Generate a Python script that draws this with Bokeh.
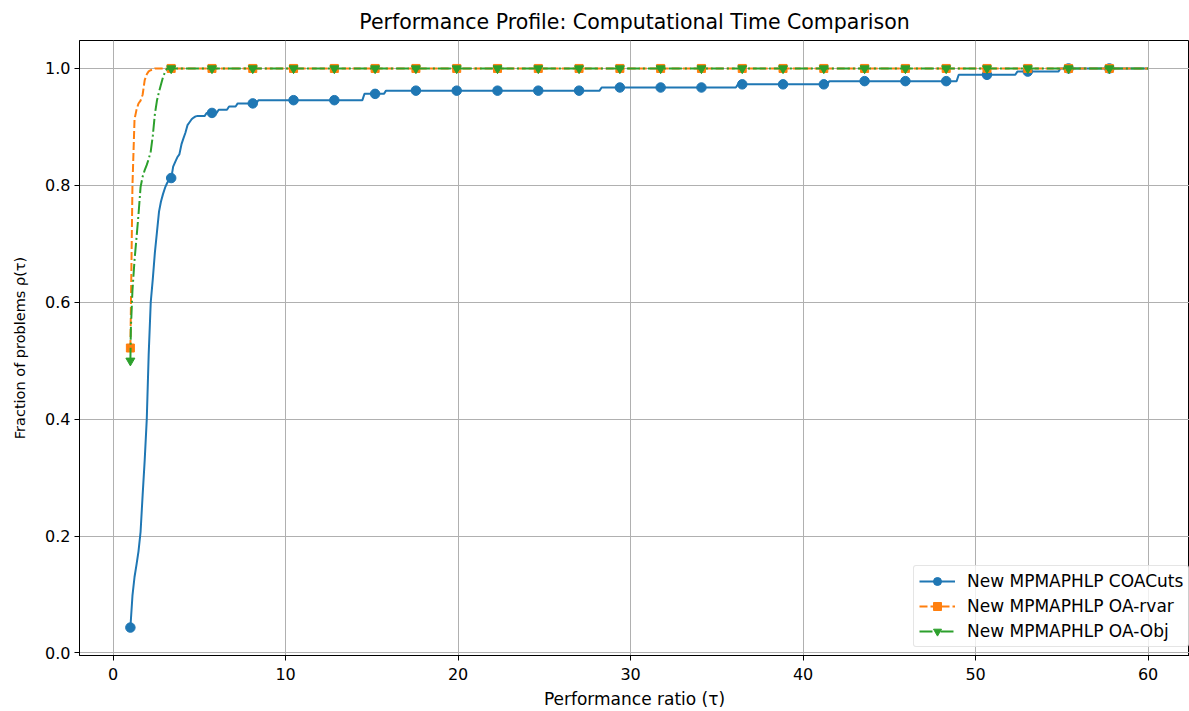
from bokeh.plotting import figure
from bokeh.models import FixedTicker, Legend, LegendItem, Range1d, CustomJSTickFormatter
from bokeh.embed import file_html
from bokeh.resources import INLINE

title = "Performance Profile: Computational Time Comparison"
x_label = "Performance ratio (τ)"
y_label = "Fraction of problems ρ(τ)"
x_ticks = [0, 10, 20, 30, 40, 50, 60]
y_ticks = [0.0, 0.2, 0.4, 0.6, 0.8, 1.0]
series_names = ["New MPMAPHLP COACuts", "New MPMAPHLP OA-rvar", "New MPMAPHLP OA-Obj"]

# New MPMAPHLP COACuts profile (tau, rho) vertices
coa_tau = [1.0, 1.12, 1.24, 1.36, 1.47, 1.59, 1.71, 1.83, 1.95, 2.06, 2.18, 2.30, 2.42,
           2.54, 2.66, 2.77, 2.89, 3.01, 3.13, 3.25, 3.37, 3.48, 3.60, 3.72, 3.84, 3.96,
           4.07, 4.19, 4.31, 4.43, 4.55, 4.67, 4.78, 4.90, 5.30, 5.42, 6.00, 6.12, 6.60,
           6.72, 7.10, 7.22, 8.30, 8.42, 14.45, 14.57, 15.70, 15.82, 28.20, 28.32, 36.10,
           36.22, 41.40, 41.52, 48.90, 49.02, 52.30, 52.42, 54.80, 54.92, 60.0]
coa_rho = [0.0435, 0.098, 0.130, 0.152, 0.174, 0.207, 0.270, 0.330, 0.400, 0.510, 0.600,
           0.640, 0.685, 0.720, 0.755, 0.772, 0.785, 0.796, 0.804, 0.810, 0.8125, 0.832,
           0.840, 0.848, 0.853, 0.870, 0.880, 0.890, 0.903, 0.908, 0.913, 0.916, 0.918,
           0.9185, 0.9185, 0.9239, 0.9239, 0.9293, 0.9293, 0.9348, 0.9348, 0.9402, 0.9402,
           0.9457, 0.9457, 0.9565, 0.9565, 0.9620, 0.9620, 0.9674, 0.9674, 0.9728, 0.9728,
           0.9783, 0.9783, 0.9891, 0.9891, 0.9946, 0.9946, 1.0, 1.0]

# New MPMAPHLP OA-rvar profile
rva_tau = [1.0, 1.12, 1.24, 1.36, 1.47, 1.59, 1.71, 1.83, 1.95, 2.06, 2.18, 2.30, 2.42, 60.0]
rva_rho = [0.5217, 0.800, 0.913, 0.930, 0.940, 0.945, 0.955, 0.980, 0.990, 0.995, 0.997,
           0.998, 1.0, 1.0]

# New MPMAPHLP OA-Obj profile
obj_tau = [1.0, 1.03, 1.12, 1.24, 1.36, 1.47, 1.59, 1.71, 1.83, 1.95, 2.06, 2.18, 2.30,
           2.42, 2.54, 2.66, 2.77, 2.89, 3.01, 3.13, 60.0]
obj_rho = [0.5, 0.557, 0.620, 0.672, 0.712, 0.750, 0.797, 0.815, 0.826, 0.835, 0.845,
           0.858, 0.885, 0.922, 0.945, 0.960, 0.972, 0.985, 0.994, 1.0, 1.0]

# marker positions (every 20th evaluation point)
marker_tau = [1.0, 3.365, 5.730, 8.094, 10.459, 12.824, 15.188, 17.553, 19.918, 22.283,
              24.647, 27.012, 29.377, 31.741, 34.106, 36.471, 38.836, 41.200, 43.565,
              45.930, 48.295, 50.659, 53.024, 55.389, 57.754]
coa_marker_rho = [0.0435, 0.8125, 0.9239, 0.9402, 0.9457, 0.9457, 0.9565, 0.962, 0.962,
                  0.962, 0.962, 0.962, 0.9674, 0.9674, 0.9674, 0.9728, 0.9728, 0.9728,
                  0.9783, 0.9783, 0.9783, 0.9891, 0.9946, 1.0, 1.0]
rva_marker_rho = [0.5217, 1.0, 1.0, 1.0, 1.0, 1.0, 1.0, 1.0, 1.0, 1.0, 1.0, 1.0, 1.0,
                  1.0, 1.0, 1.0, 1.0, 1.0, 1.0, 1.0, 1.0, 1.0, 1.0, 1.0, 1.0]
obj_marker_rho = [0.5, 1.0, 1.0, 1.0, 1.0, 1.0, 1.0, 1.0, 1.0, 1.0, 1.0, 1.0, 1.0,
                  1.0, 1.0, 1.0, 1.0, 1.0, 1.0, 1.0, 1.0, 1.0, 1.0, 1.0, 1.0]

BLUE, ORANGE, GREEN = "#1f77b4", "#ff7f0e", "#2ca02c"
FONT = "DejaVu Sans"

p = figure(width=1189, height=711, output_backend="svg", toolbar_location=None,
           x_range=Range1d(-1.95, 62.4), y_range=Range1d(-0.0043, 1.0478),
           min_border_left=79, min_border_right=0, min_border_top=40, min_border_bottom=55,
           title=title)

p.title.align = "center"
p.title.text_font = FONT
p.title.text_font_size = "20.5px"
p.title.text_font_style = "normal"
p.title.text_color = "#000000"
p.title.standoff = 13

p.outline_line_color = "black"
p.outline_line_width = 1
p.background_fill_color = "white"
p.border_fill_color = "white"

for ax, lab, ticks in ((p.xaxis[0], x_label, x_ticks), (p.yaxis[0], y_label, y_ticks)):
    ax.ticker = FixedTicker(ticks=ticks)
    ax.axis_label = lab
    ax.axis_label_text_font = FONT
    ax.axis_label_text_font_style = "normal"
    ax.axis_label_text_color = "black"
    ax.major_label_text_font = FONT
    ax.major_label_text_font_size = "16px"
    ax.major_label_text_color = "black"
    ax.axis_line_color = "black"
    ax.major_tick_line_color = "black"
    ax.major_tick_out = 5
    ax.major_tick_in = 0
    ax.minor_tick_line_color = None

p.xaxis[0].axis_label_text_font_size = "17px"
p.xaxis[0].major_label_standoff = 7
p.xaxis[0].axis_label_standoff = 6
p.yaxis[0].axis_label_text_font_size = "14.5px"
p.yaxis[0].major_label_standoff = 4
p.yaxis[0].axis_label_standoff = 14
p.yaxis[0].formatter = CustomJSTickFormatter(code="return tick.toFixed(1);")

p.xgrid.ticker = FixedTicker(ticks=x_ticks)
p.ygrid.ticker = FixedTicker(ticks=y_ticks)
p.grid.grid_line_color = "#b0b0b0"
p.grid.grid_line_width = 1

l1 = p.line(coa_tau, coa_rho, line_color=BLUE, line_width=2)
m1 = p.scatter(marker_tau, coa_marker_rho, marker="circle", size=9.5, fill_color=BLUE,
               line_color=BLUE)
l2 = p.line(rva_tau, rva_rho, line_color=ORANGE, line_width=2, line_dash="8 3")
m2 = p.scatter(marker_tau, rva_marker_rho, marker="square", size=8, fill_color=ORANGE,
               line_color=ORANGE)
l3 = p.line(obj_tau, obj_rho, line_color=GREEN, line_width=2, line_dash="13 3 2 3")
m3 = p.scatter(marker_tau, obj_marker_rho, marker="inverted_triangle", size=9,
               fill_color=GREEN, line_color=GREEN)

legend = Legend(items=[LegendItem(label=series_names[0], renderers=[l1, m1]),
                       LegendItem(label=series_names[1], renderers=[l2, m2]),
                       LegendItem(label=series_names[2], renderers=[l3, m3])],
                location=(834, 8))
legend.label_text_font = FONT
legend.label_text_font_size = "17px"
legend.label_text_color = "black"
legend.glyph_width = 36
legend.glyph_height = 20
legend.label_standoff = 12
legend.label_height = 20
legend.spacing = 5
legend.padding = 5
legend.margin = 0
legend.border_line_color = "#cccccc"
legend.border_line_width = 1
legend.background_fill_alpha = 0.8
legend.border_radius = 3
p.add_layout(legend, "center")

open("out.html", "w").write(file_html(p, INLINE))
